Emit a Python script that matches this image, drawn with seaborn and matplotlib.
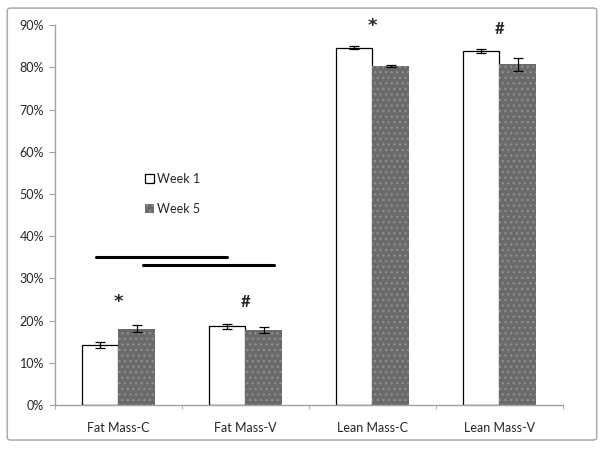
import pandas as pd
import matplotlib.pyplot as plt
import seaborn as sns
from matplotlib.patches import FancyBboxPatch
from matplotlib.ticker import PercentFormatter, FixedLocator

# values (fractions)
categories = ["Fat Mass-C", "Fat Mass-V", "Lean Mass-C", "Lean Mass-V"]
week1 = [0.142, 0.186, 0.847, 0.839]
week5 = [0.181, 0.178, 0.803, 0.807]
week1_err = [0.007, 0.005, 0.003, 0.005]
week5_err = [0.009, 0.007, 0.003, 0.016]
marks = ["*", "#", "*", "#"]
mark_y = [0.243, 0.245, 0.897, 0.89]

df = pd.DataFrame({
    "group": categories * 2,
    "week": ["Week 1"] * 4 + ["Week 5"] * 4,
    "value": week1 + week5,
    "err": week1_err + week5_err,
})

sns.set_style("white")
plt.rcParams["font.family"] = ["Lato", "DejaVu Sans"]

fig = plt.figure(figsize=(6.04, 4.49), dpi=100)
ax = fig.add_axes([0.091, 0.098, 0.841, 0.846])

sns.barplot(data=df, x="group", y="value", hue="week", order=categories,
            hue_order=["Week 1", "Week 5"], palette=["white", "#6a6a6a"],
            width=0.57, gap=0, errorbar=None, ax=ax)

# style bars: week 1 outlined, week 5 dotted
n = len(categories)
for i, p in enumerate(ax.patches[:2 * n]):
    if i < n:
        p.set_edgecolor("black")
        p.set_linewidth(0.9)
    else:
        p.set_facecolor("#6a6a6a")
        p.set_edgecolor("#8e8e8e")
        p.set_linewidth(0)
        p.set_hatch("...")

# error bars at bar centres
for p, e in zip(ax.patches[:2 * n], week1_err + week5_err):
    xc = p.get_x() + p.get_width() / 2
    ax.errorbar(xc, p.get_height(), yerr=e, color="black", lw=0.9,
                capsize=3.5, capthick=0.9)

for i, (m, y) in enumerate(zip(marks, mark_y)):
    if m == "*":
        ax.text(i, y, m, ha="center", va="center", fontsize=13, fontweight="bold",
                family="DejaVu Sans")
    else:
        ax.text(i, y, m, ha="center", va="center", fontsize=12, fontweight="bold")

# significance lines
ax.plot([-0.176, 0.853], [0.351, 0.351], color="black", lw=2.2)
ax.plot([0.19, 1.227], [0.332, 0.332], color="black", lw=2.2)

ax.set_xlim(-0.5, 3.5)
ax.set_ylim(0, 0.9)
ax.yaxis.set_major_locator(FixedLocator([i / 10 for i in range(10)]))
ax.yaxis.set_major_formatter(PercentFormatter(1.0, decimals=0))
ax.set_xlabel("")
ax.set_ylabel("")
ax.xaxis.set_minor_locator(FixedLocator([-0.5, 0.5, 1.5, 2.5, 3.5]))
ax.tick_params(axis="x", which="major", length=0, pad=12, labelsize=9)
ax.tick_params(axis="x", which="minor", length=3, color="#a0a0a0", direction="out", bottom=True)
ax.tick_params(axis="y", length=4, color="#a0a0a0", direction="out", left=True, labelsize=9, pad=4)
for s in ["top", "right"]:
    ax.spines[s].set_visible(False)
for s in ["left", "bottom"]:
    ax.spines[s].set_color("#a0a0a0")
    ax.spines[s].set_linewidth(1)

leg = ax.legend(loc="upper left", bbox_to_anchor=(0.155, 0.64), frameon=False,
                fontsize=9, handlelength=0.7, handleheight=0.7, handletextpad=0.3,
                labelspacing=1.4)
hs = leg.legend_handles
hs[0].set_edgecolor("black")
hs[0].set_linewidth(0.9)
hs[1].set_hatch("...")
hs[1].set_edgecolor("#8e8e8e")
hs[1].set_linewidth(0)

frame = FancyBboxPatch((0.012, 0.02), 0.976, 0.962, boxstyle="round,pad=0,rounding_size=0.006",
                       transform=fig.transFigure, fill=False, edgecolor="#b0b0b0", lw=1.2)
fig.patches.append(frame)

fig.savefig("out.png", dpi=100)
